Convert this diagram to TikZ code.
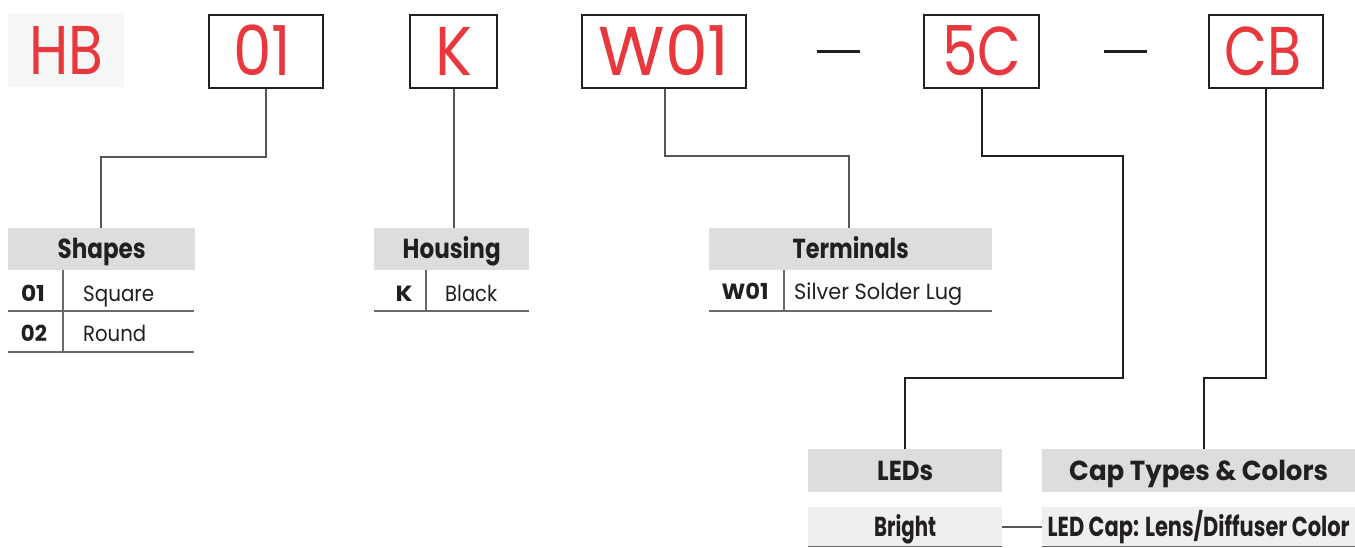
\documentclass[tikz,border=0pt]{standalone}
\usepackage{fontspec}
\usepackage{graphicx}
\setmainfont{Poppins}
\newcommand{\fw}[2]{\resizebox{#1}{\height}{#2}}
\definecolor{redtxt}{HTML}{E8383D}
\definecolor{hbbg}{HTML}{F5F7F7}
\definecolor{hdrbg}{HTML}{DCDEDD}
\definecolor{rowbg}{HTML}{EFEFEF}
\definecolor{boxline}{HTML}{231F20}
\definecolor{conA}{HTML}{5A5554}
\definecolor{conB}{HTML}{231F20}
\definecolor{rule}{HTML}{6D6867}
\definecolor{txt}{HTML}{231F20}
\tikzset{
  codebox/.style={draw=boxline, line width=2.4pt, inner sep=0pt, anchor=north west, text=redtxt, font=\fontsize{69}{69}\selectfont, text height=48pt, text depth=0pt},
  hdr/.style={fill=hdrbg, inner sep=0pt, anchor=north west, text=txt, font=\fontsize{27.5}{27.5}\selectfont\bfseries, text height=19pt, text depth=-5pt},
  lightrow/.style={fill=rowbg, inner sep=0pt, anchor=north west, text=txt, font=\fontsize{27.5}{27.5}\selectfont\bfseries, text height=19pt, text depth=-5pt},
  codetxt/.style={text=txt, font=\fontsize{22}{22}\selectfont\bfseries, inner sep=0pt, text height=15.3pt, text depth=0pt},
  desctxt/.style={text=txt, font=\fontsize{22}{22}\selectfont, inner sep=0pt, anchor=west, text height=15.3pt, text depth=0pt},
  conn/.style={draw=conA, line width=1.6pt},
  connd/.style={draw=conB, line width=1.6pt},
  tabrule/.style={draw=rule, line width=1.6pt},
  dashline/.style={draw=boxline, line width=3pt},
}
\begin{document}
\begin{tikzpicture}[x=1pt,y=-1pt]
\useasboundingbox (0,0) rectangle (1355,547);
% top code
\node[fill=hbbg, inner sep=0pt, anchor=north west, minimum width=116pt, minimum height=74pt, text=redtxt, font=\fontsize{69}{69}\selectfont, text height=48pt, text depth=0pt] (hb) at (8,13) {\fw{74pt}{HB}};
\node[codebox, minimum width=114pt, minimum height=73pt] (c01) at (208,14) {\hspace{-8pt}\fw{58pt}{01}};
\node[codebox, minimum width=87pt, minimum height=73pt] (cK) at (409,14) {\fw{37pt}{K}};
\node[codebox, minimum width=164pt, minimum height=73pt] (cW) at (581,14) {\fw{131pt}{W01}};
\node[codebox, minimum width=115pt, minimum height=73pt] (c5C) at (923,14) {\fw{79pt}{5C}};
\node[codebox, minimum width=114pt, minimum height=73pt] (cCB) at (1208,14) {\hspace{-7pt}\fw{77pt}{CB}};
\coordinate (d1a) at (817,51); \coordinate (d1b) at (860,51);
\coordinate (d2a) at (1104,51); \coordinate (d2b) at (1147,51);
\draw[dashline] (d1a) -- (d1b);
\draw[dashline] (d2a) -- (d2b);
% headers
\node[hdr, minimum width=187pt, minimum height=42pt] (shapes) at (8,228) {\fw{88pt}{Shapes}};
\node[hdr, minimum width=155pt, minimum height=42pt] (housing) at (374,228) {\fw{98pt}{Housing}};
\node[hdr, minimum width=283pt, minimum height=42pt] (term) at (709,228) {\fw{116pt}{Terminals}};
\node[hdr, minimum width=194pt, minimum height=43pt] (leds) at (808,449) {\fw{56pt}{LEDs}};
\node[hdr, minimum width=313pt, minimum height=43pt] (cap) at (1042,449) {\fw{259pt}{Cap Types \& Colors}};
% shapes table
\coordinate (s1) at (8,311); \coordinate (s1e) at (194,311);
\coordinate (s2) at (8,352); \coordinate (s2e) at (194,352);
\coordinate (sv1) at (63,270); \coordinate (sv2) at (63,352);
\draw[tabrule] (s1) -- (s1e);
\draw[tabrule] (s2) -- (s2e);
\draw[tabrule] (sv1) -- (sv2);
\node[codetxt] (s01) at (33,294) {\fw{24pt}{01}};
\node[desctxt] (sq) at (83,294) {\fw{71pt}{Square}};
\node[codetxt] (s02) at (34,333.5) {\fw{26pt}{02}};
\node[desctxt] (rd) at (83,333.5) {\fw{63pt}{Round}};
% housing table
\coordinate (h1) at (374,311); \coordinate (h1e) at (529,311);
\coordinate (hv1) at (426,270); \coordinate (hv2) at (426,311);
\draw[tabrule] (h1) -- (h1e);
\draw[tabrule] (hv1) -- (hv2);
\node[codetxt] (hK) at (404,293.5) {\fw{17pt}{K}};
\node[desctxt] (hblack) at (445,293.5) {\fw{52pt}{Black}};
% terminals table
\coordinate (t1) at (709,311); \coordinate (t1e) at (992,311);
\coordinate (tv1) at (784,270); \coordinate (tv2) at (784,311);
\draw[tabrule] (t1) -- (t1e);
\draw[tabrule] (tv1) -- (tv2);
\node[codetxt] (tW) at (745,292) {\fw{47pt}{W01}};
\node[desctxt] (tS) at (794,292) {\fw{168pt}{Silver Solder Lug}};
% bottom rows
\node[lightrow, minimum width=194pt, minimum height=39pt] (bright) at (808,507) {\fw{62pt}{Bright}};
\node[lightrow, minimum width=313pt, minimum height=39pt] (ledcap) at (1042,507) {\fw{302pt}{LED Cap: Lens/Diffuser Color}};
\draw[tabrule] (bright.south west) -- (bright.south east);
\draw[tabrule] (ledcap.south west) -- (ledcap.south east);
\draw[conn] (bright.east) -- (ledcap.west);
% connectors
\coordinate (k01) at (101,157);
\draw[conn] (c01.south) |- (k01) -- (k01 |- shapes.north);
\draw[conn] (cK.south) -- (cK.south |- housing.north);
\coordinate (kW1) at (665,156); \coordinate (kW2) at (849,156);
\draw[conn] (kW1 |- cW.south) -- (kW1) -- (kW2) -- (kW2 |- term.north);
\coordinate (k5a) at (982,156); \coordinate (k5b) at (1123,156);
\coordinate (k5c) at (1123,378); \coordinate (k5d) at (905,378);
\draw[connd] (k5a |- c5C.south) -- (k5a) -- (k5b) -- (k5c) -- (k5d) -- (k5d |- leds.north);
\coordinate (kCa) at (1204,378);
\draw[connd] (cCB.south) |- (kCa) -- (kCa |- cap.north);
\end{tikzpicture}
\end{document}
